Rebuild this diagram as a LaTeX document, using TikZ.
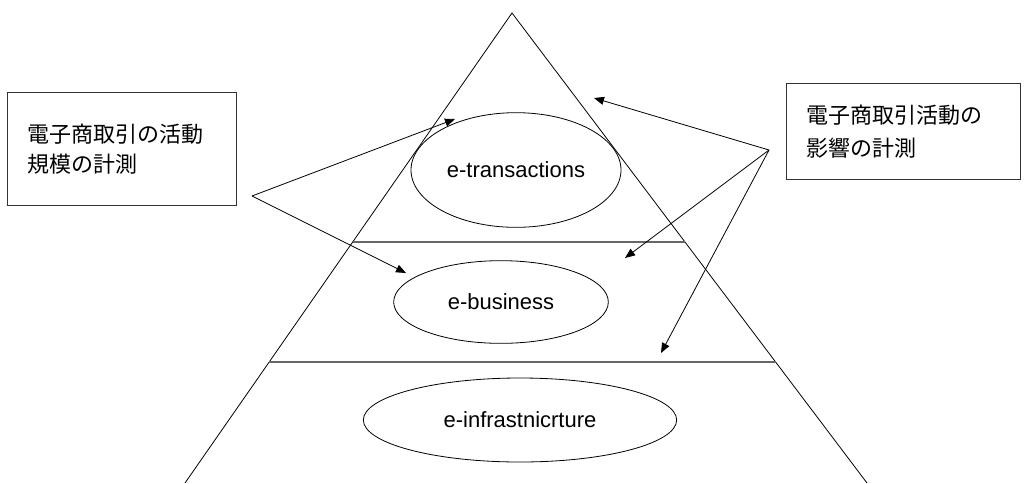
\documentclass[tikz,border=0pt]{standalone}
\usepackage{fontspec}
\setmainfont{Liberation Sans}
\newfontfamily\jpfont{Noto Sans CJK JP}
\usetikzlibrary{shapes.geometric, arrows.meta, calc}
\tikzstyle{layer} = [ellipse, draw=black, line width=0.6pt, inner sep=0pt, font=\fontsize{16.5}{20}\selectfont]
\tikzstyle{note} = [rectangle, draw=black!80, line width=0.8pt, align=left, anchor=north west, inner xsep=15pt, font=\jpfont\fontsize{16.5}{23}\selectfont]
\tikzstyle{side} = [line width=0.6pt]
\tikzstyle{divider} = [draw=black!60, line width=1.2pt]
\tikzstyle{arrow} = [line width=0.6pt, -{Triangle[length=7.5pt, width=6pt]}]

\begin{document}
\begin{tikzpicture}[x=0.75pt, y=-0.75pt]
\useasboundingbox (0,0) rectangle (1027,483);

% pyramid
\coordinate (apex) at (512,13);
\coordinate (baseL) at (185,483);
\coordinate (baseR) at (867,483);
\draw [side] (baseL) -- (apex) -- (baseR);
\draw [divider] ($(apex)!0.487!(baseL)$) -- ($(apex)!0.487!(baseR)$);
\draw [divider] ($(apex)!0.743!(baseL)$) -- ($(apex)!0.743!(baseR)$);

\node (trans) [layer, minimum width=157.5pt, minimum height=86pt] at (516,170) {e-transactions};
\node (business) [layer, minimum width=161pt, minimum height=62pt] at (501,302) {e-business};
\node (infra) [layer, minimum width=235pt, minimum height=63pt] at (520,420) {e-infrastnicrture};

\node (scale) [note, text width=141.75pt, minimum height=85pt] at (7,92) {電子商取引の活動\\規模の計測};
\node (impact) [note, text width=145.5pt, minimum height=72pt, font=\jpfont\fontsize{16.5}{25}\selectfont] at (786,83) {電子商取引活動の\\影響の計測};

\coordinate (lfork) at (252,196);
\coordinate (rfork) at (769,150);
\coordinate (tipTrans) at (455,119);
\coordinate (tipBusiness) at (406,273);
\coordinate (tipTop) at (594,98);
\coordinate (tipMid) at (625,258);
\coordinate (tipLow) at (661,353);

\draw [arrow] (lfork) -- (tipTrans);
\draw [arrow] (lfork) -- (tipBusiness);
\draw [arrow] (rfork) -- (tipTop);
\draw [arrow] (rfork) -- (tipMid);
\draw [arrow] (rfork) -- (tipLow);

\end{tikzpicture}
\end{document}
